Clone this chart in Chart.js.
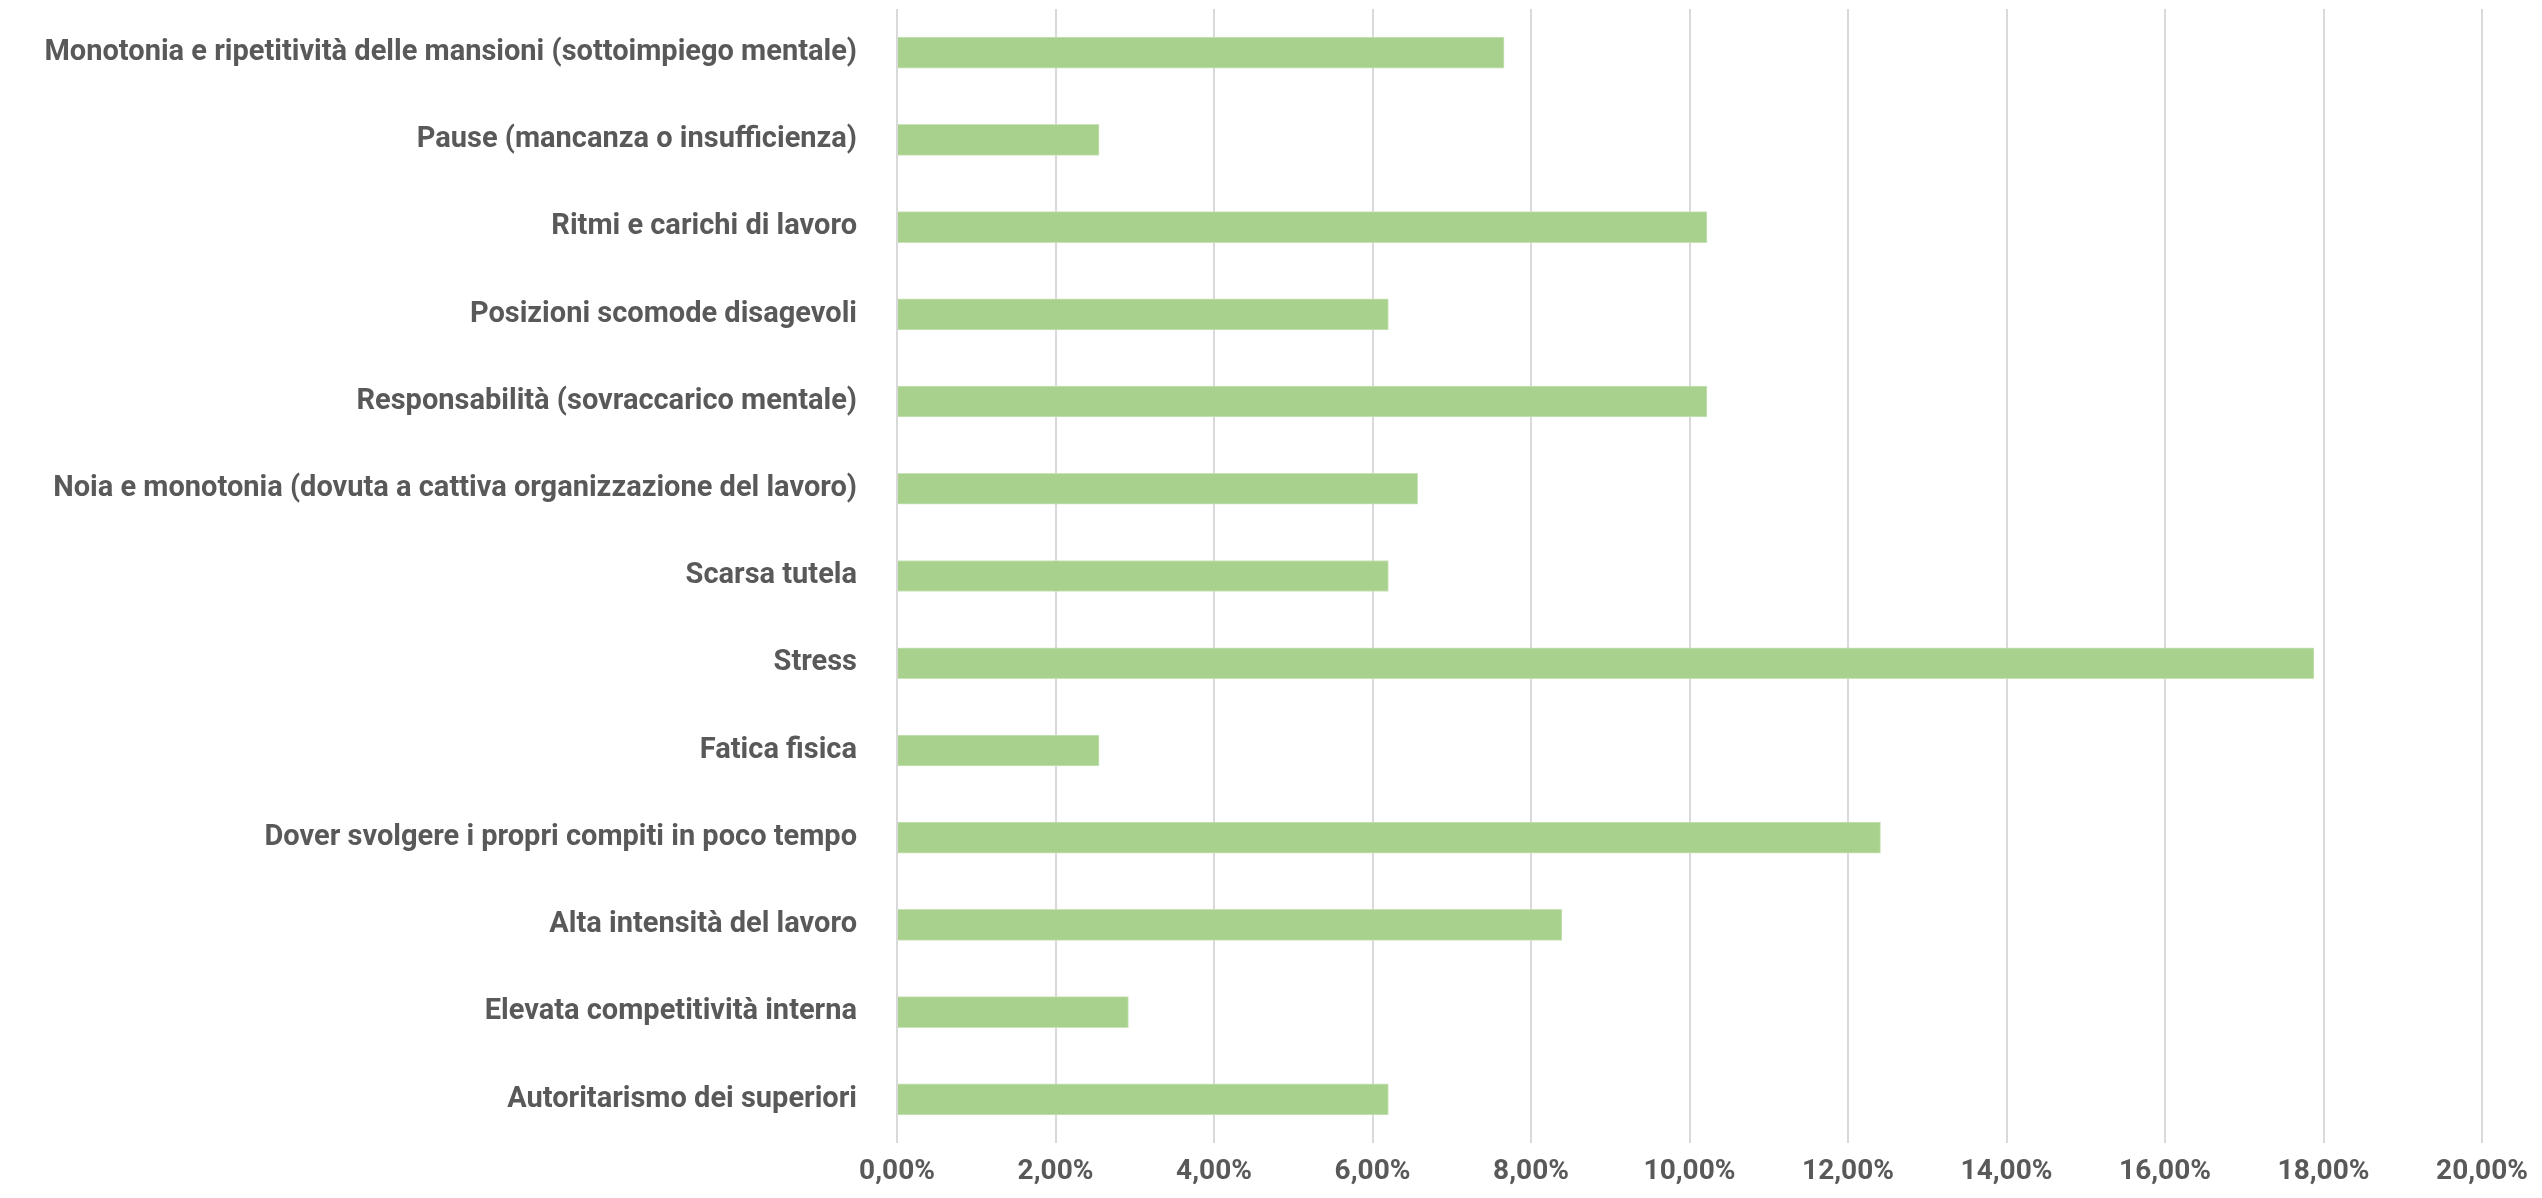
<!DOCTYPE html>
<html>
<head>
<meta charset="utf-8">
<script src="https://cdn.jsdelivr.net/npm/chart.js@4.4.1/dist/chart.umd.min.js"></script>
<style>
  html, body { margin: 0; padding: 0; background: #fff; }
  #wrap { width: 2542px; height: 1198px; }
</style>
</head>
<body>
<div id="wrap"><canvas id="bar-chart" width="2542" height="1198"></canvas></div>
<script>
const categories = [
  "Monotonia e ripetitività delle mansioni (sottoimpiego mentale)",
  "Pause (mancanza o insufficienza)",
  "Ritmi e carichi di lavoro",
  "Posizioni scomode disagevoli",
  "Responsabilità (sovraccarico mentale)",
  "Noia e monotonia (dovuta a cattiva organizzazione del lavoro)",
  "Scarsa tutela",
  "Stress",
  "Fatica fisica",
  "Dover svolgere i propri compiti in poco tempo",
  "Alta intensità del lavoro",
  "Elevata competitività interna",
  "Autoritarismo dei superiori"
];
const percentages = [7.66, 2.55, 10.22, 6.20, 10.22, 6.57, 6.20, 17.88, 2.55, 12.41, 8.39, 2.92, 6.20];
const axisTicks = [0, 2, 4, 6, 8, 10, 12, 14, 16, 18, 20];

const textColor = '#595959';

const barChart = document.getElementById("bar-chart").getContext("2d");

let chart = new Chart(barChart, {
  type: 'bar',
  data: {
    labels: categories,
    datasets: [{
      label: "Percentuale",
      backgroundColor: "#a9d18e",
      borderColor: "#c9e3b8",
      borderWidth: 1,
      barThickness: 31,
      data: percentages
    }]
  },
  options: {
    indexAxis: 'y',
    responsive: false,
    animation: false,
    layout: {
      padding: { top: 9, right: 60, left: 0, bottom: 0 }
    },
    plugins: {
      legend: { display: false },
      tooltip: { enabled: false }
    },
    scales: {
      x: {
        min: 0,
        max: 20,
        afterBuildTicks: s => { s.ticks = axisTicks.map(v => ({ value: v })); },
        afterFit: s => { s.height = 55; },
        border: { display: false },
        grid: { color: '#d9d9d9', lineWidth: 2, drawTicks: false },
        ticks: {
          padding: 12,
          color: textColor,
          font: { family: "Roboto, sans-serif", size: 28, weight: 'bold' },
          maxRotation: 0,
          callback: v => v.toFixed(2).replace('.', ',') + '%'
        }
      },
      y: {
        afterFit: s => {
          s.width = 897;
          // keep the long labels from pushing the plot area down
          s.paddingTop = 0;
          s.paddingBottom = 0;
        },
        border: { display: false },
        grid: { display: false, drawTicks: false },
        ticks: {
          padding: 40,
          color: textColor,
          font: { family: "Roboto, sans-serif", size: 29, weight: 'bold' }
        }
      }
    }
  }
});
</script>
</body>
</html>
